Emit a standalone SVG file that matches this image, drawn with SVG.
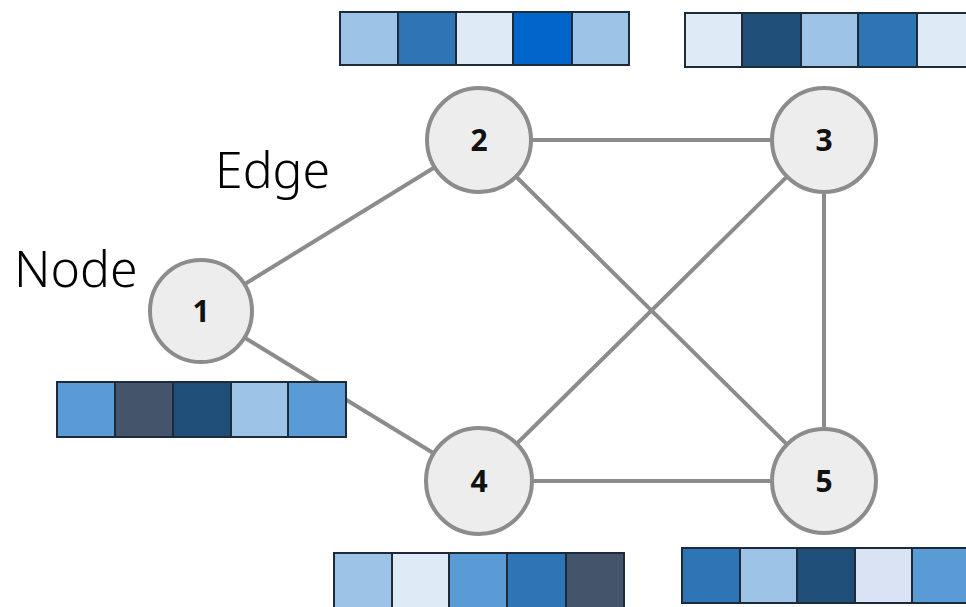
<svg xmlns="http://www.w3.org/2000/svg" width="966" height="607" viewBox="0 0 966 607">
  <style>
    .edge { stroke: #8c8c8c; stroke-width: 4; fill: none; }
    .node circle { fill: #ededed; stroke: #8c8c8c; stroke-width: 4; }
    .node text { font-family: "Open Sans", "Noto Sans", sans-serif; font-weight: 700; font-size: 30px; fill: #111; text-anchor: middle; }
    .label { font-family: "Noto Sans", "Open Sans", sans-serif; font-weight: 300; font-size: 50px; fill: #000; }
    .cell { stroke: #1c2a3a; stroke-width: 2; }
    .c1 { fill: #9dc3e6; }
    .c2 { fill: #2e75b6; }
    .c3 { fill: #deebf7; }
    .c4 { fill: #0066cc; }
    .c5 { fill: #1f4e79; }
    .c6 { fill: #5b9bd5; }
    .c7 { fill: #44546a; }
    .c8 { fill: #dae3f3; }
  </style>

  <rect width="966" height="607" fill="#ffffff"/>

  <!-- connectors -->
  <g id="edges">
    <line class="edge" x1="201" y1="311" x2="479" y2="140"/>
    <line class="edge" x1="201" y1="311" x2="479" y2="481"/>
    <line class="edge" x1="479" y1="140" x2="824" y2="140"/>
    <line class="edge" x1="479" y1="140" x2="824" y2="481"/>
    <line class="edge" x1="824" y1="140" x2="479" y2="481"/>
    <line class="edge" x1="824" y1="140" x2="824" y2="481"/>
    <line class="edge" x1="479" y1="481" x2="824" y2="481"/>
  </g>

  <!-- feature vectors -->
  <g id="vec-2">
    <rect class="cell c1" x="340" y="12" width="58" height="53"/>
    <rect class="cell c2" x="398" y="12" width="58" height="53"/>
    <rect class="cell c3" x="456" y="12" width="57" height="53"/>
    <rect class="cell c4" x="513" y="12" width="59" height="53"/>
    <rect class="cell c1" x="572" y="12" width="57" height="53"/>
  </g>
  <g id="vec-3">
    <rect class="cell c3" x="685" y="13" width="57" height="54"/>
    <rect class="cell c5" x="742" y="13" width="59" height="54"/>
    <rect class="cell c1" x="801" y="13" width="57" height="54"/>
    <rect class="cell c2" x="858" y="13" width="59" height="54"/>
    <rect class="cell c3" x="917" y="13" width="58" height="54"/>
  </g>
  <g id="vec-1">
    <rect class="cell c6" x="57" y="382" width="58" height="55"/>
    <rect class="cell c7" x="115" y="382" width="58" height="55"/>
    <rect class="cell c5" x="173" y="382" width="58" height="55"/>
    <rect class="cell c1" x="231" y="382" width="57" height="55"/>
    <rect class="cell c6" x="288" y="382" width="58" height="55"/>
  </g>
  <g id="vec-4">
    <rect class="cell c1" x="334" y="553" width="58" height="58"/>
    <rect class="cell c3" x="392" y="553" width="57" height="58"/>
    <rect class="cell c6" x="449" y="553" width="58" height="58"/>
    <rect class="cell c2" x="507" y="553" width="59" height="58"/>
    <rect class="cell c7" x="566" y="553" width="58" height="58"/>
  </g>
  <g id="vec-5">
    <rect class="cell c2" x="682" y="548" width="58" height="55"/>
    <rect class="cell c1" x="740" y="548" width="57" height="55"/>
    <rect class="cell c5" x="797" y="548" width="58" height="55"/>
    <rect class="cell c8" x="855" y="548" width="57" height="55"/>
    <rect class="cell c6" x="912" y="548" width="58" height="55"/>
  </g>

  <!-- nodes -->
  <g id="node-1" class="node">
    <circle cx="201" cy="311" r="51"/>
    <text x="201" y="322">1</text>
  </g>
  <g id="node-2" class="node">
    <circle cx="479" cy="140" r="52"/>
    <text x="479" y="151">2</text>
  </g>
  <g id="node-3" class="node">
    <circle cx="824" cy="140" r="52"/>
    <text x="824" y="151">3</text>
  </g>
  <g id="node-4" class="node">
    <circle cx="479" cy="481" r="53"/>
    <text x="479" y="492">4</text>
  </g>
  <g id="node-5" class="node">
    <circle cx="824" cy="481" r="52"/>
    <text x="824" y="492">5</text>
  </g>

  <!-- annotations -->
  <text class="label" x="215" y="188">Edge</text>
  <text class="label" x="14" y="287">Node</text>
</svg>
